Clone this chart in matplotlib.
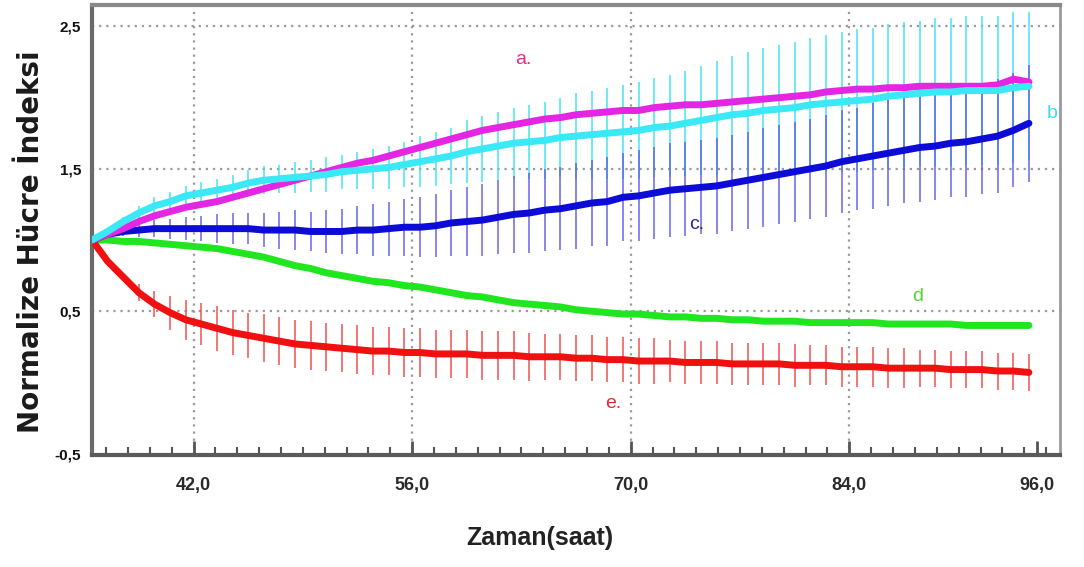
import numpy as np
import matplotlib
matplotlib.use("Agg")
import matplotlib.pyplot as plt
from matplotlib.ticker import MultipleLocator, FixedLocator

# ---------------- data ----------------
hours = np.arange(61) + 35.5  # sampling times (h)

a_vals = [1.00, 1.04, 1.08, 1.13, 1.17, 1.20, 1.23, 1.25, 1.27, 1.30,
          1.33, 1.36, 1.39, 1.42, 1.45, 1.48, 1.51, 1.54, 1.56, 1.59,
          1.62, 1.65, 1.68, 1.71, 1.74, 1.77, 1.79, 1.81, 1.83, 1.85,
          1.86, 1.88, 1.89, 1.90, 1.91, 1.91, 1.93, 1.94, 1.95, 1.95,
          1.96, 1.97, 1.98, 1.99, 2.00, 2.01, 2.02, 2.04, 2.05, 2.06,
          2.06, 2.07, 2.07, 2.08, 2.08, 2.08, 2.08, 2.08, 2.09, 2.13,
          2.11]

b_vals = [1.00, 1.06, 1.13, 1.19, 1.24, 1.27, 1.31, 1.33, 1.35, 1.37,
          1.40, 1.42, 1.43, 1.44, 1.45, 1.46, 1.48, 1.49, 1.50, 1.51,
          1.53, 1.55, 1.57, 1.59, 1.62, 1.64, 1.66, 1.68, 1.69, 1.70,
          1.72, 1.73, 1.74, 1.75, 1.76, 1.77, 1.79, 1.80, 1.82, 1.84,
          1.86, 1.88, 1.89, 1.91, 1.92, 1.93, 1.95, 1.96, 1.97, 1.98,
          1.99, 2.01, 2.02, 2.03, 2.04, 2.04, 2.05, 2.05, 2.05, 2.07,
          2.08]
b_err = [0.00, 0.00, 0.03, 0.05, 0.06, 0.07, 0.07, 0.08, 0.08, 0.09,
         0.09, 0.10, 0.10, 0.11, 0.11, 0.12, 0.12, 0.13, 0.14, 0.15,
         0.16, 0.18, 0.19, 0.20, 0.22, 0.23, 0.24, 0.25, 0.26, 0.27,
         0.28, 0.30, 0.31, 0.32, 0.33, 0.34, 0.35, 0.36, 0.37, 0.38,
         0.40, 0.41, 0.43, 0.44, 0.45, 0.46, 0.47, 0.48, 0.49, 0.50,
         0.50, 0.51, 0.51, 0.51, 0.52, 0.52, 0.52, 0.52, 0.52, 0.53,
         0.52]

c_vals = [1.00, 1.04, 1.06, 1.07, 1.08, 1.08, 1.08, 1.08, 1.08, 1.08,
          1.08, 1.07, 1.07, 1.07, 1.06, 1.06, 1.06, 1.07, 1.07, 1.08,
          1.09, 1.09, 1.10, 1.12, 1.13, 1.14, 1.16, 1.18, 1.19, 1.21,
          1.22, 1.24, 1.26, 1.27, 1.30, 1.31, 1.33, 1.35, 1.36, 1.37,
          1.38, 1.40, 1.42, 1.44, 1.46, 1.48, 1.50, 1.52, 1.55, 1.57,
          1.59, 1.61, 1.63, 1.65, 1.66, 1.68, 1.69, 1.71, 1.73, 1.77,
          1.82]
c_err = [0.00, 0.00, 0.03, 0.05, 0.06, 0.07, 0.08, 0.09, 0.10, 0.11,
         0.11, 0.12, 0.13, 0.14, 0.14, 0.15, 0.16, 0.17, 0.18, 0.19,
         0.20, 0.21, 0.22, 0.23, 0.24, 0.25, 0.26, 0.27, 0.28, 0.29,
         0.29, 0.30, 0.30, 0.31, 0.31, 0.32, 0.32, 0.33, 0.33, 0.33,
         0.34, 0.34, 0.34, 0.35, 0.35, 0.35, 0.35, 0.36, 0.36, 0.36,
         0.37, 0.37, 0.37, 0.38, 0.38, 0.38, 0.39, 0.39, 0.40, 0.40,
         0.41]

d_vals = [1.00, 1.00, 0.99, 0.99, 0.98, 0.97, 0.96, 0.95, 0.94, 0.92,
          0.90, 0.88, 0.85, 0.82, 0.80, 0.77, 0.75, 0.73, 0.71, 0.70,
          0.68, 0.67, 0.65, 0.63, 0.61, 0.60, 0.58, 0.56, 0.55, 0.54,
          0.53, 0.51, 0.50, 0.49, 0.48, 0.48, 0.47, 0.46, 0.46, 0.45,
          0.45, 0.44, 0.44, 0.43, 0.43, 0.43, 0.42, 0.42, 0.42, 0.42,
          0.42, 0.41, 0.41, 0.41, 0.41, 0.41, 0.40, 0.40, 0.40, 0.40,
          0.40]

e_vals = [1.00, 0.85, 0.74, 0.63, 0.55, 0.49, 0.44, 0.41, 0.38, 0.35,
          0.33, 0.31, 0.29, 0.27, 0.26, 0.25, 0.24, 0.23, 0.22, 0.22,
          0.21, 0.21, 0.20, 0.20, 0.20, 0.19, 0.19, 0.19, 0.18, 0.18,
          0.18, 0.17, 0.17, 0.16, 0.16, 0.15, 0.15, 0.15, 0.14, 0.14,
          0.14, 0.13, 0.13, 0.13, 0.13, 0.12, 0.12, 0.12, 0.11, 0.11,
          0.11, 0.10, 0.10, 0.10, 0.10, 0.09, 0.09, 0.09, 0.08, 0.08,
          0.07]
e_err = [0.00, 0.00, 0.03, 0.06, 0.09, 0.12, 0.14, 0.15, 0.16, 0.16,
         0.16, 0.17, 0.17, 0.17, 0.17, 0.17, 0.17, 0.17, 0.17, 0.17,
         0.17, 0.17, 0.17, 0.17, 0.17, 0.17, 0.17, 0.17, 0.17, 0.16,
         0.16, 0.16, 0.16, 0.16, 0.16, 0.16, 0.16, 0.15, 0.15, 0.15,
         0.15, 0.15, 0.15, 0.15, 0.15, 0.15, 0.14, 0.14, 0.14, 0.14,
         0.14, 0.14, 0.14, 0.13, 0.13, 0.13, 0.13, 0.13, 0.13, 0.13,
         0.13]

x_ticks = [42, 56, 70, 84, 96]
x_tick_labels = ["42,0", "56,0", "70,0", "84,0", "96,0"]
y_ticks = [-0.5, 0.5, 1.5, 2.5]
y_tick_labels = ["-0,5", "0,5", "1,5", "2,5"]

# ---------------- figure ----------------
plt.rcParams['font.family'] = ['Liberation Sans', 'DejaVu Sans']
fig = plt.figure(figsize=(10.84, 5.67), dpi=100)
ax = fig.add_axes([0.0849, 0.1975, 0.8931, 0.7935])
ax.set_xlim(35.5, 97.5)
ax.set_ylim(-0.51, 2.65)

# grid
for xv in x_ticks[:-1]:
    ax.axvline(xv, color='#9a9a9a', lw=1.6, ls=(0, (1, 2.2)), zorder=0)
for yv in y_ticks[1:]:
    ax.axhline(yv, color='#9a9a9a', lw=1.6, ls=(0, (1, 2.2)), zorder=0)

# error bars
h = np.asarray(hours)
def bars(vals, err, color):
    vals = np.asarray(vals); err = np.asarray(err)
    m = err > 0
    ax.vlines(h[m], vals[m] - err[m], vals[m] + err[m], colors=color,
              lw=1.3, alpha=0.8, zorder=1)

bars(b_vals, b_err, '#38e4f0')
bars(c_vals, c_err, '#5c5ce8')
bars(e_vals, e_err, '#f04848')

# lines
ax.plot(hours, d_vals, color='#1fe61f', lw=5, solid_capstyle='round', zorder=3)
ax.plot(hours, e_vals, color='#f01010', lw=5, solid_capstyle='round', zorder=3)
ax.plot(hours, c_vals, color='#0c0cd6', lw=5, solid_capstyle='round', zorder=3)
ax.plot(hours, a_vals, color='#e426e4', lw=5, solid_capstyle='round', zorder=3)
ax.plot(hours, b_vals, color='#3ae8f6', lw=5, solid_capstyle='round', zorder=4)

# series labels
ax.text(63.1, 2.27, "a.", color='#e0308a', fontsize=14, ha='center', va='center')
ax.text(97.0, 1.89, "b", color='#3ae0f0', fontsize=14, ha='center', va='center')
ax.text(74.2, 1.11, "c.", color='#2a2a8a', fontsize=14, ha='center', va='center')
ax.text(88.4, 0.60, "d", color='#55d633', fontsize=14, ha='center', va='center')
ax.text(68.9, -0.15, "e.", color='#d83030', fontsize=14, ha='center', va='center')

# axes styling
for side in ['top', 'right', 'left', 'bottom']:
    ax.spines[side].set_linewidth(3)
ax.spines['top'].set_color('#8a8a8a')
ax.spines['right'].set_color('#9a9a9a')
ax.spines['right'].set_linewidth(2)
ax.spines['left'].set_color('#6a6a6a')
ax.spines['bottom'].set_color('#5a5a5a')

ax.xaxis.set_major_locator(FixedLocator(x_ticks))
ax.set_xticklabels(x_tick_labels, fontsize=13, color='#2a2a2a', fontweight='bold')
ax.xaxis.set_minor_locator(MultipleLocator(1.4))
ax.tick_params(axis='x', which='major', direction='in', length=10, width=2,
               color='#555555', pad=16)
ax.tick_params(axis='x', which='minor', direction='in', length=6, width=1.5,
               color='#555555')
ax.yaxis.set_major_locator(FixedLocator(y_ticks))
ax.set_yticklabels(y_tick_labels, fontsize=11, fontweight='bold', color='#111111')
ax.tick_params(axis='y', which='both', length=0, pad=8)

fig.text(540 / 1084, 1 - 538 / 567, "Zaman(saat)", fontsize=18, fontweight='bold',
         color='#222222', ha='center', va='center')
fig.text(31 / 1084, 1 - 242 / 567, "Normalize Hücre İndeksi", fontsize=20,
         fontweight='bold', color='#1a1a1a', rotation=90, ha='center', va='center',
         family=['DejaVu Sans'])

fig.savefig("out.png", dpi=100, facecolor='white')
